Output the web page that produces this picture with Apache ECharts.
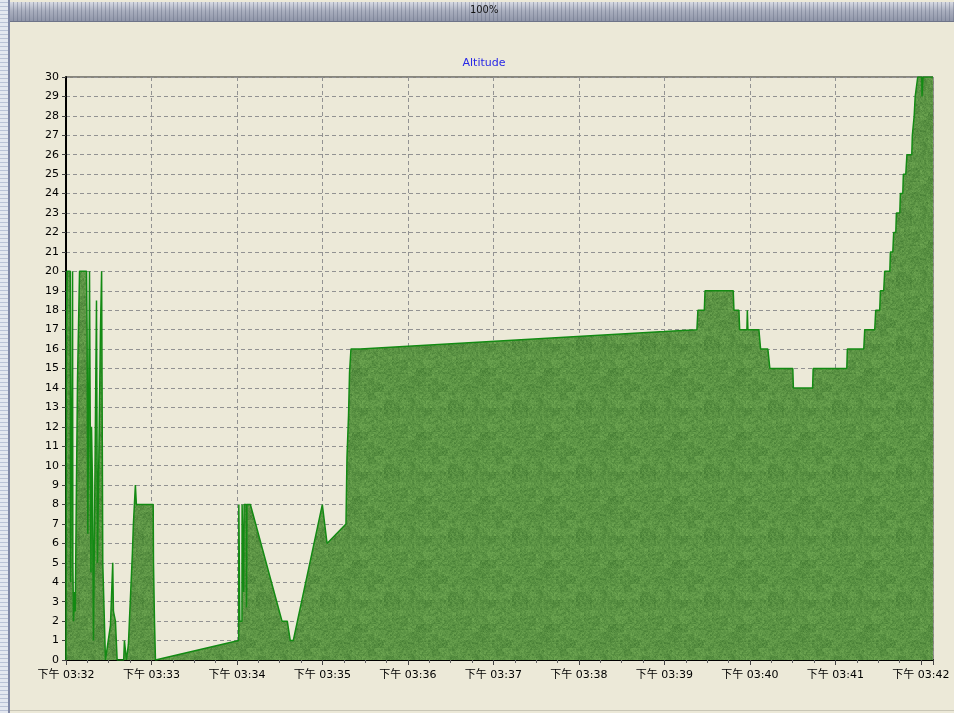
<!DOCTYPE html>
<html>
<head>
<meta charset="utf-8">
<script src="https://cdn.jsdelivr.net/npm/echarts@6/dist/echarts.min.js"></script>
<style>
html,body{margin:0;padding:0;background:#ECE9D8;}
#chart{width:954px;height:713px;}
</style>
</head>
<body>
<div id="chart"></div>
<script>
// Elapsed seconds since 下午 03:32:00
var seconds = [
  0, 0.3, 0.7, 3.0, 3.2, 4.0, 4.3, 4.6, 4.8, 5.3, 6.0, 6.5, 7.4, 8.1, 9.5,
  14.4, 14.8, 15.3, 15.8, 16.5, 17.2, 17.5, 17.9, 18.6, 19.3, 20.7, 21.4, 22.1, 22.6,
  24.2, 25.0, 25.6, 25.8, 27.0, 27.7, 28.4, 31.2, 32.8, 33.3, 34.7, 35.9, 40.5, 41.0,
  42.4, 43.8, 44.5, 45.7, 46.6, 47.3, 48.7, 49.4, 61.2, 61.4, 62.1, 62.8,
  121.2, 121.3, 121.9, 122.0, 123.5, 123.6, 124.6, 124.7, 125.0, 126.6, 126.7, 127.0,
  129.4, 151.6, 155.3, 157.4, 159.5, 179.9, 183.2, 196.5, 196.7, 197.2, 198.3, 199.0,
  200.0, 206.5, 420.0, 421.0, 442.8, 443.5, 448.0, 448.5, 468.3, 468.8, 472.3, 472.8,
  477.9, 478.2, 478.6, 486.3, 487.5, 492.6, 494.0, 510.1, 510.5, 524.0, 524.4, 548.0,
  548.4, 559.9, 560.6, 567.6, 568.3, 571.1, 571.6, 573.9, 574.6, 578.2, 578.6, 580.3,
  580.9, 582.4, 582.8, 585.2, 585.6, 587.3, 587.7, 589.4, 590.2, 593.6, 594.0, 595.0,
  595.3, 595.7, 596.0, 597.4, 597.8, 600.6, 600.8, 601.2, 601.5, 608.5
];
var altitude = [
  0, 16, 20, 20, 4, 4, 15, 20, 5, 2, 3.5, 2.5, 9.5, 14.5, 20,
  20, 17, 6.5, 12, 20, 20, 4.5, 12, 9, 1, 1, 18.5, 5, 5,
  17, 20, 20, 5, 5, 0, 0, 1.8, 5, 2.5, 2, 0, 0, 1,
  0, 0.8, 2, 4, 5.5, 7, 9, 8, 8, 5, 2, 0,
  1, 8, 8, 2, 2, 8, 8, 3.5, 8, 8, 2.7, 8,
  8, 2, 2, 1, 1, 8, 6, 7, 8, 10.4, 12.6, 14.8,
  16, 16, 16.9, 17, 17, 18, 18, 19, 19, 18, 18, 17,
  17, 18, 17, 17, 16, 16, 15, 15, 14, 14, 15, 15,
  16, 16, 17, 17, 18, 18, 19, 19, 20, 20, 21, 21,
  22, 22, 23, 23, 24, 24, 25, 25, 26, 26, 27, 27,
  28, 28, 29, 29, 30, 30, 29, 29, 30, 30
];
var xMinMinute = 32;
var xTickSeconds = [0, 60, 120, 180, 240, 300, 360, 420, 480, 540, 600];
var yTicks = [0, 30];
var titleText = 'Altitude';
var zoomText = '100%';

function pad2(n){ return (n < 10 ? '0' : '') + n; }
function xLabel(v){
  if (xTickSeconds.indexOf(Math.round(v)) < 0 || Math.abs(v - Math.round(v)) > 1e-6) return '';
  var m = xMinMinute + Math.round(v) / 60;
  return '下午 03:' + pad2(m);
}

// deterministic mottled grass texture
function hash(x, y){
  var h = (x * 374761393 + y * 668265263) | 0;
  h = (h ^ (h >>> 13)) * 1274126177 | 0;
  h = h ^ (h >>> 16);
  return ((h >>> 0) % 1000) / 1000;
}
function makeGrass(){
  var c = document.createElement('canvas');
  c.width = 64; c.height = 64;
  var ctx = c.getContext('2d');
  for (var y = 0; y < 64; y++) {
    for (var x = 0; x < 64; x++) {
      var n = 0.4 * hash(x, y) + 0.35 * hash((x >> 1) + 31, (y >> 1) + 99) + 0.25 * hash((x >> 3) + 5, (y >> 3) + 7);
      var r = Math.round(66 + n * 50);
      var g = Math.round(122 + n * 50);
      var b = Math.round(50 + n * 36);
      ctx.fillStyle = 'rgb(' + r + ',' + g + ',' + b + ')';
      ctx.fillRect(x, y, 1, 1);
    }
  }
  return c;
}
function makeTopBar(){
  var c = document.createElement('canvas');
  c.width = 4; c.height = 20;
  var ctx = c.getContext('2d');
  var gr = ctx.createLinearGradient(0, 0, 0, 20);
  gr.addColorStop(0, '#D7DAE3');
  gr.addColorStop(0.45, '#A9AEBE');
  gr.addColorStop(1, '#8D93A6');
  ctx.fillStyle = gr;
  ctx.fillRect(0, 0, 4, 20);
  ctx.fillStyle = 'rgba(90,96,120,0.35)';
  ctx.fillRect(3, 0, 1, 20);
  return c;
}
function makeLeftStrip(){
  var c = document.createElement('canvas');
  c.width = 8; c.height = 4;
  var ctx = c.getContext('2d');
  ctx.fillStyle = '#E4E8F0';
  ctx.fillRect(0, 0, 8, 4);
  ctx.fillStyle = '#B9C2D6';
  ctx.fillRect(0, 2, 8, 1);
  return c;
}

var chart = echarts.init(document.getElementById('chart'), null, {renderer: 'canvas'});
var data = seconds.map(function(s, i){ return [s, altitude[i]]; });

var option = {
  animation: false,
  backgroundColor: '#ECE9D8',
  title: {
    text: titleText,
    left: 479,
    top: 53,
    textAlign: 'center',
    textStyle: {color: '#2727E6', fontSize: 11, fontWeight: 'normal', fontFamily: 'DejaVu Sans'}
  },
  grid: {
    left: 66, right: 21, top: 77, bottom: 53,
    show: true, borderColor: '#222', borderWidth: 1, backgroundColor: 'transparent'
  },
  xAxis: {
    type: 'value',
    min: 0, max: 608.5, interval: 60,
    axisLine: {show: true, lineStyle: {color: '#000', width: 2}},
    axisTick: {show: true, length: 5, lineStyle: {color: '#444'}},
    minorTick: {show: true, splitNumber: 4, length: 3, lineStyle: {color: '#666'}},
    axisLabel: {
      formatter: xLabel, color: '#000', fontSize: 11, margin: 10,
      fontFamily: "'DejaVu Sans', 'Noto Sans CJK SC'",
      showMaxLabel: false
    },
    splitLine: {show: true, lineStyle: {color: '#929292', type: [4, 3], width: 1}}
  },
  yAxis: {
    type: 'value',
    min: yTicks[0], max: yTicks[1], interval: 1,
    axisLine: {show: true, lineStyle: {color: '#000', width: 2}},
    axisTick: {show: true, length: 4, lineStyle: {color: '#444'}},
    axisLabel: {color: '#000', fontSize: 11, margin: 7, fontFamily: 'DejaVu Sans'},
    splitLine: {show: true, lineStyle: {color: '#929292', type: [4, 3], width: 1}}
  },
  series: [{
    type: 'line',
    name: titleText,
    data: data,
    showSymbol: false,
    symbol: 'none',
    lineStyle: {color: '#138A13', width: 1.5},
    areaStyle: {color: {image: makeGrass(), repeat: 'repeat'}, opacity: 1},
    z: 3
  }],
  graphic: [
    {type: 'rect', left: 0, top: 0, shape: {width: 8, height: 713}, style: {fill: {image: makeLeftStrip(), repeat: 'repeat'}}, silent: true},
    {type: 'rect', left: 8, top: 0, shape: {width: 2, height: 713}, style: {fill: '#8189A6'}, silent: true},
    {type: 'rect', left: 10, top: 2, shape: {width: 944, height: 19}, style: {fill: {image: makeTopBar(), repeat: 'repeat'}}, silent: true},
    {type: 'rect', left: 10, top: 21, shape: {width: 944, height: 1}, style: {fill: '#6E7488'}, silent: true},
    {type: 'text', left: 470, top: 5, style: {text: zoomText, fill: '#111', fontSize: 11, fontFamily: 'DejaVu Sans Condensed, DejaVu Sans'}, silent: true},
    {type: 'rect', left: 10, top: 710, shape: {width: 944, height: 1}, style: {fill: '#C9C6B6'}, silent: true}
  ]
};
chart.setOption(option);
</script>
</body>
</html>
